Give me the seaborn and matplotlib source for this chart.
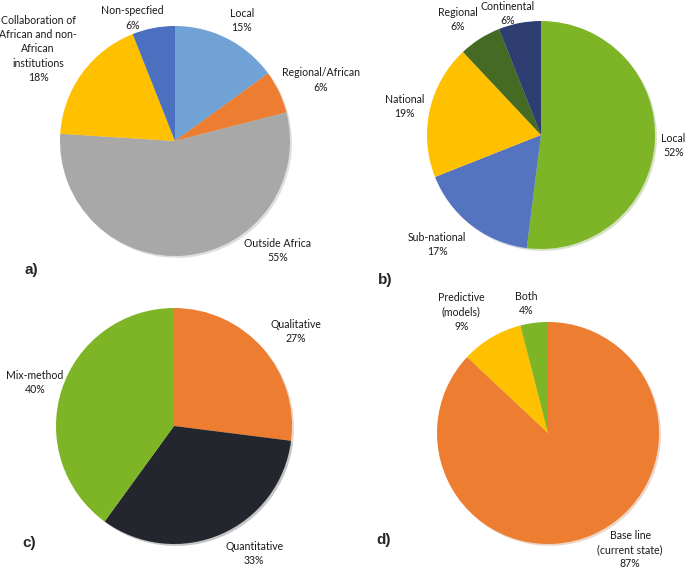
import matplotlib
matplotlib.use("Agg")
import matplotlib.pyplot as plt
import seaborn as sns

# ─────────────────────────────────────────────
# DATA
# ─────────────────────────────────────────────
a_labels = ["Local", "Regional/African", "Outside Africa",
            "Collaboration of\nAfrican and non-\nAfrican\ninstitutions", "Non-specfied"]
a_values = [15, 6, 55, 18, 6]
a_colors = ["#70A2D6", "#ED7D31", "#A8A8A8", "#FFC000", "#4A70BF"]

b_labels = ["Local", "Sub-national", "National", "Regional", "Continental"]
b_values = [52, 17, 19, 6, 6]
b_colors = ["#7EB526", "#5574BF", "#FFC000", "#456A24", "#2E3D72"]

c_labels = ["Qualitative", "Quantitative", "Mix-method"]
c_values = [27, 33, 40]
c_colors = ["#ED7D31", "#24262E", "#7EB526"]

d_labels = ["Base line\n(current state)", "Predictive\n(models)", "Both"]
d_values = [87, 9, 4]
d_colors = ["#ED7D31", "#FFC000", "#7EB526"]

# ─────────────────────────────────────────────
# LAYOUT (pixels of the 685x568 canvas)
# ─────────────────────────────────────────────
W, H = 685, 568
panels = [
    # letter, values, labels, colors, centre, radius, label offsets (in radii), letter pos
    ("a)", a_values, a_labels, a_colors, (175, 141), 115,
     [(0.58, 1.05), (1.27, 0.53), (0.89, -0.95), (-1.19, 0.80), (-0.37, 1.07)], (31, 270)),
    ("b)", b_values, b_labels, b_colors, (541, 135), 114,
     [(1.16, -0.09), (-0.91, -0.96), (-1.20, 0.25), (-0.73, 1.01), (-0.29, 1.065)], (385, 280)),
    ("c)", c_values, c_labels, c_colors, (174, 426), 118,
     [(1.03, 0.80), (0.68, -1.08), (-1.18, 0.37)], (29, 543)),
    ("d)", d_values, d_labels, d_colors, (548, 433), 111,
     [(0.74, -1.05), (-0.78, 1.09), (-0.20, 1.17)], (384, 540)),
]

sns.set_theme(style="white")
plt.rcParams["font.family"] = ["Lato", "DejaVu Sans"]

fig = plt.figure(figsize=(W / 100, H / 100), dpi=100)

for letter, values, labels, colors, (cx, cy), r, offsets, (lx, ly) in panels:
    ax = fig.add_axes([(cx - r) / W, (H - cy - r) / H, 2 * r / W, 2 * r / H])
    ax.pie(values, colors=colors, startangle=90, counterclock=False,
           radius=1, wedgeprops=dict(linewidth=0),
           shadow=dict(ox=0.012, oy=-0.012, shade=0.25, alpha=0.25))
    for w in ax.patches:
        w.set_clip_on(False)
    ax.set_xlim(-1, 1)
    ax.set_ylim(-1, 1)
    ax.set_aspect("equal")
    ax.axis("off")
    for lab, val, (ox, oy) in zip(labels, values, offsets):
        ax.text(ox, oy, f"{lab}\n{val}%", ha="center", va="center",
                fontsize=7.6, color="#1a1a1a", linespacing=1.35, clip_on=False)
    fig.text(lx / W, 1 - ly / H, letter, ha="center", va="center",
             fontsize=11, fontweight="bold", family=["Liberation Sans", "DejaVu Sans"])

fig.savefig("out.png", dpi=100, facecolor="white")
